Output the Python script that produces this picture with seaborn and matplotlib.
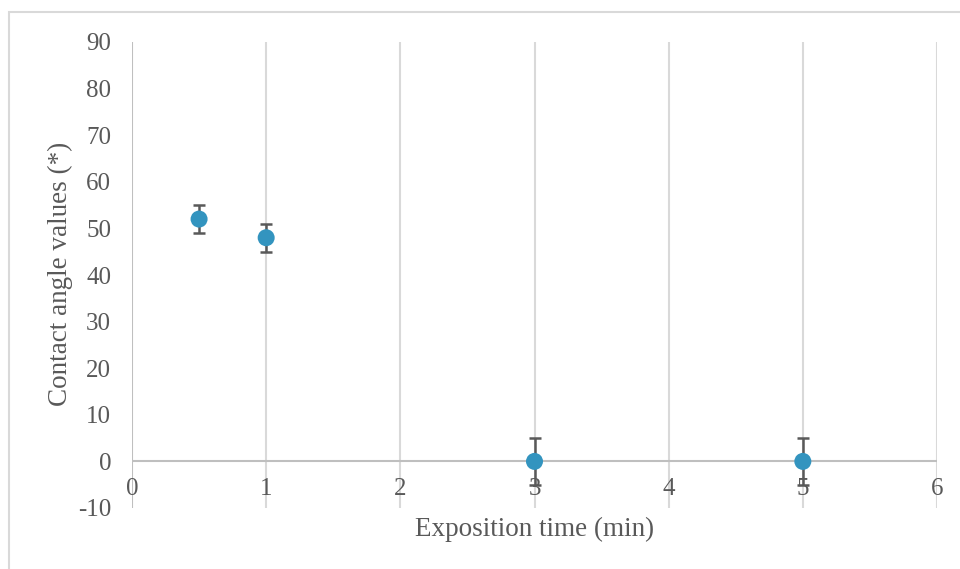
import matplotlib
matplotlib.use("Agg")
import matplotlib.pyplot as plt
import seaborn as sns
import pandas as pd
from matplotlib.patches import Rectangle

# Measured contact angles after each exposition time
exposition_time = [0.5, 1, 3, 5]
contact_angle = [52, 48, 0, 0]
angle_error = [3, 3, 5, 5]

x_ticks = [0, 1, 2, 3, 4, 5, 6]
y_ticks = [-10, 0, 10, 20, 30, 40, 50, 60, 70, 80, 90]

df = pd.DataFrame({"time": exposition_time, "angle": contact_angle, "err": angle_error})

sns.set_style("white")
plt.rcParams["font.family"] = ["Liberation Serif", "DejaVu Serif"]

fig = plt.figure(figsize=(9.6, 5.69), dpi=100)
ax = fig.add_axes([132 / 960, 1 - 508 / 569, (937 - 132) / 960, (508 - 42) / 569])

# outer chart frame (runs off the right and bottom edges)
fig.patches.append(Rectangle((9 / 960, -0.2), 1.2, 0.2 + 1 - 12 / 569,
                             transform=fig.transFigure, fill=False,
                             edgecolor="#d9d9d9", linewidth=1.5, zorder=0))

ax.set_xlim(0, 6)
ax.set_ylim(-10, 90)
ax.set_xticks(x_ticks)
ax.set_yticks(y_ticks)

# vertical gridlines only
for xv in x_ticks[1:]:
    ax.axvline(xv, color="#d9d9d9", linewidth=1.5, zorder=0)
ax.axhline(0, color="#bfbfbf", linewidth=1.5, zorder=1)
ax.axvline(0, color="#bfbfbf", linewidth=1.5, zorder=1)

for side in ["top", "right", "bottom", "left"]:
    ax.spines[side].set_visible(False)

ax.errorbar(df["time"], df["angle"], yerr=df["err"], fmt="none",
            ecolor="#595959", elinewidth=1.8, capsize=4.4, capthick=1.8, zorder=3)
sns.scatterplot(data=df, x="time", y="angle", ax=ax, s=150, color="#3394bf",
                edgecolor="none", zorder=4, legend=False)

ax.tick_params(axis="both", length=0, labelsize=18, labelcolor="#595959")
ax.tick_params(axis="y", pad=15)
ax.set_xticklabels([])
ax.set_yticklabels([str(v) for v in y_ticks])

# x tick labels sit just beneath the zero line
for xv in x_ticks:
    ax.text(xv, -6.0, str(xv), ha="center", va="center", fontsize=18,
            color="#595959", zorder=2)

ax.set_xlabel("")
ax.set_ylabel("")
fig.text(535 / 960, 1 - 529 / 569, "Exposition time (min)", ha="center", va="center",
         fontsize=19.5, color="#595959")
fig.text(60 / 960, 1 - 274 / 569, "Contact angle values (*)", ha="center", va="center",
         rotation=90, fontsize=19.5, color="#595959")

fig.savefig("out.png", dpi=100)
